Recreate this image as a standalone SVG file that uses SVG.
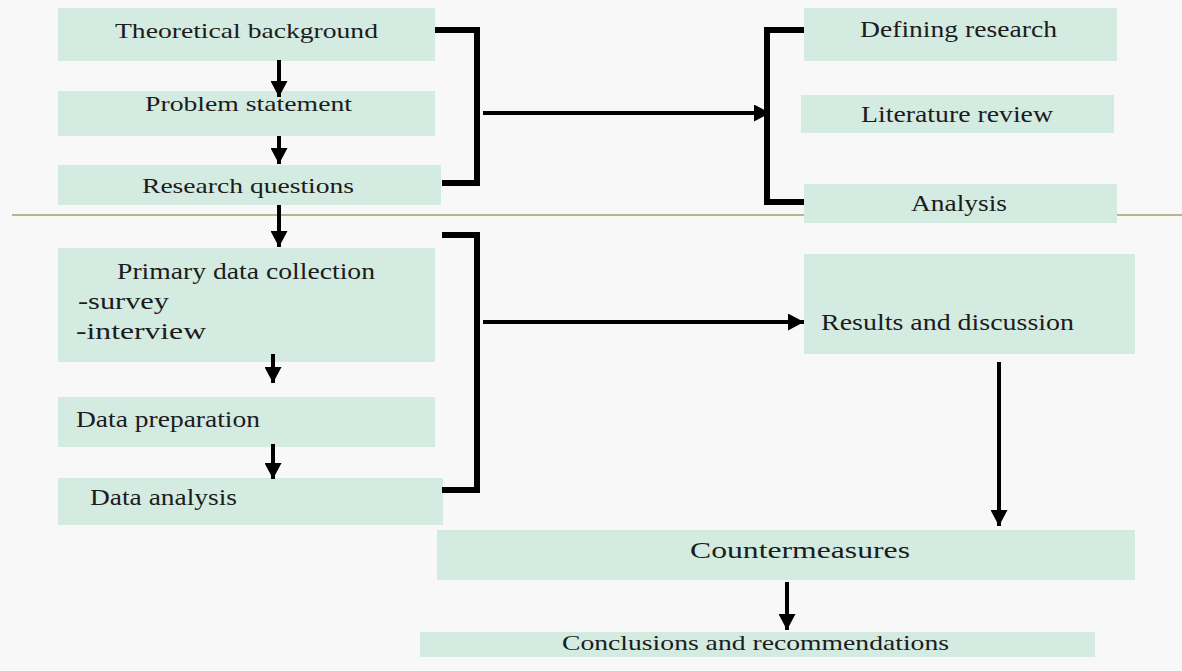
<svg xmlns="http://www.w3.org/2000/svg" width="1182" height="671" viewBox="0 0 1182 671">
<defs>
<style>
.box{fill:#d4ebe2}
.t{font-family:"Liberation Serif","Times New Roman",serif;fill:#1c1c1c}
.br{fill:none;stroke:#000;stroke-width:6;stroke-linejoin:miter}
.ar{fill:none;stroke:#000;stroke-width:4}
</style>
<marker id="ah" viewBox="0 0 10 10" refX="10" refY="5" markerWidth="16" markerHeight="17" markerUnits="userSpaceOnUse" orient="auto" preserveAspectRatio="none">
<path d="M0,0 L10,5 L0,10 Z" fill="#000"/>
</marker>
</defs>
<rect width="1182" height="671" fill="#f8f8f8"/>
<line x1="12" y1="215" x2="1182" y2="215" stroke="#b9b58a" stroke-width="2"/>

<g id="n-theoretical"><rect class="box" x="58" y="8" width="377" height="53"/><text class="t" x="115" y="38" font-size="21" textLength="263" lengthAdjust="spacingAndGlyphs">Theoretical background</text></g>
<g id="n-problem"><rect class="box" x="58" y="91" width="377" height="45"/><text class="t" x="145" y="111" font-size="21" textLength="207" lengthAdjust="spacingAndGlyphs">Problem statement</text></g>
<g id="n-questions"><rect class="box" x="58" y="165" width="383" height="40"/><text class="t" x="142" y="193" font-size="21" textLength="212" lengthAdjust="spacingAndGlyphs">Research questions</text></g>

<g id="n-defining"><rect class="box" x="804" y="8" width="313" height="53"/><text class="t" x="860" y="37" font-size="23" textLength="197" lengthAdjust="spacingAndGlyphs">Defining research</text></g>
<g id="n-literature"><rect class="box" x="801" y="95" width="313" height="38"/><text class="t" x="861" y="122" font-size="23" textLength="192" lengthAdjust="spacingAndGlyphs">Literature review</text></g>
<g id="n-analysis"><rect class="box" x="804" y="184" width="313" height="39"/><text class="t" x="911" y="211" font-size="23" textLength="96" lengthAdjust="spacingAndGlyphs">Analysis</text></g>

<g id="n-primary"><rect class="box" x="58" y="248" width="377" height="114"/>
<text class="t" x="117" y="279" font-size="24" textLength="258" lengthAdjust="spacingAndGlyphs">Primary data collection</text>
<text class="t" x="78" y="309" font-size="24" textLength="91" lengthAdjust="spacingAndGlyphs">-survey</text>
<text class="t" x="76" y="339" font-size="24" textLength="130" lengthAdjust="spacingAndGlyphs">-interview</text></g>
<g id="n-preparation"><rect class="box" x="58" y="397" width="377" height="50"/><text class="t" x="76" y="427" font-size="24" textLength="184" lengthAdjust="spacingAndGlyphs">Data preparation</text></g>
<g id="n-dataanalysis"><rect class="box" x="58" y="478" width="385" height="47"/><text class="t" x="90" y="505" font-size="24" textLength="147" lengthAdjust="spacingAndGlyphs">Data analysis</text></g>

<g id="n-results"><rect class="box" x="804" y="254" width="331" height="100"/><text class="t" x="821" y="330" font-size="23" textLength="253" lengthAdjust="spacingAndGlyphs">Results and discussion</text></g>
<g id="n-counter"><rect class="box" x="437" y="530" width="698" height="50"/><text class="t" x="690" y="558" font-size="24" textLength="220" lengthAdjust="spacingAndGlyphs">Countermeasures</text></g>
<g id="n-conclusions"><rect class="box" x="420" y="632" width="675" height="25"/><text class="t" x="562" y="650" font-size="21" textLength="387" lengthAdjust="spacingAndGlyphs">Conclusions and recommendations</text></g>

<g id="connectors">
<path class="br" d="M435,30 H477 V183 H442"/>
<path class="br" d="M804,30 H767 V202 H804"/>
<path class="br" d="M442,235 H477 V490 H442"/>
<line class="ar" x1="483" y1="113" x2="770" y2="113" marker-end="url(#ah)"/>
<line class="ar" x1="483" y1="322" x2="804" y2="322" marker-end="url(#ah)"/>
<line class="ar" x1="279" y1="60" x2="279" y2="97" marker-end="url(#ah)"/>
<line class="ar" x1="279" y1="136" x2="279" y2="164" marker-end="url(#ah)"/>
<line class="ar" x1="279" y1="205" x2="279" y2="247" marker-end="url(#ah)"/>
<line class="ar" x1="273" y1="354" x2="273" y2="383" marker-end="url(#ah)"/>
<line class="ar" x1="273" y1="444" x2="273" y2="479" marker-end="url(#ah)"/>
<line class="ar" x1="999" y1="362" x2="999" y2="526" stroke-width="3" marker-end="url(#ah)"/>
<line class="ar" x1="787" y1="582" x2="787" y2="630" marker-end="url(#ah)"/>
</g>
</svg>
